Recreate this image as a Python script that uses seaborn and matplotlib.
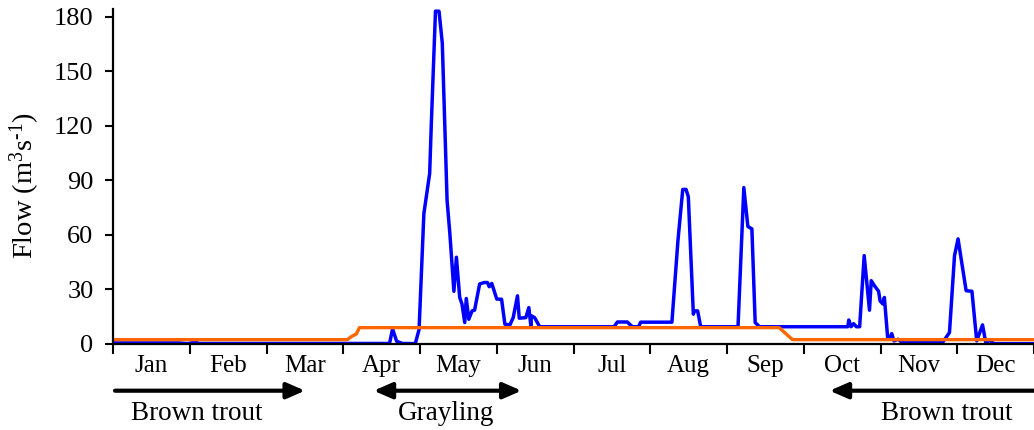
import matplotlib
matplotlib.use("Agg")
import matplotlib.pyplot as plt
import numpy as np
import pandas as pd
import seaborn as sns

# Daily river flow (m3/s) by day of year
flow_day = [0, 26.3, 29.5, 32.6, 34.2, 109.6, 110.8, 112.4, 114.7, 119.8,
            121.3, 123.2, 125.5, 126.1, 127.8, 129.2, 130.5, 132.4, 133.5, 135.1,
            136.1, 137.4, 138.3, 139.4, 140.0, 141.0, 142.3, 143.3, 145.3, 147.1,
            148.4, 149.1, 150.1, 152.1, 154.0, 155.3, 157.3, 158.6, 160.3, 161.0,
            163.6, 164.8, 165.6, 165.8, 167.1, 169.1, 198.6, 199.9, 203.8, 205.8,
            208.3, 209.1, 221.5, 223.9, 225.8, 227.1, 228.0, 230.0, 230.4, 231.7,
            232.9, 247.7, 250.0, 251.6, 253.2, 254.5, 256.2, 291.2, 291.6, 292.5,
            293.5, 294.6, 295.9, 297.7, 299.8, 300.5, 301.8, 303.4, 304.0, 305.1,
            305.7, 307.0, 308.0, 308.6, 309.5, 311.2, 312.5, 328.9, 331.5, 333.5,
            334.9, 338.1, 340.4, 342.3, 344.6, 345.9, 347.5, 349.2, 365]
flow_val = [0.6, 0.6, 0.2, 1.0, 0.3, 0.3, 8.3, 1.5, 0.3, 0.2,
            8, 71.7, 93.8, 119, 183, 183, 165.5, 79, 60.7, 29,
            47.7, 25.6, 22, 11.8, 25, 13.6, 18.2, 18.6, 33, 33.8,
            33.8, 31.5, 33.3, 24.7, 24.6, 10.9, 10.5, 14.5, 26.5, 14.2,
            14.5, 20, 10, 15.5, 14.5, 9.5, 9.5, 12.1, 12.1, 9.5,
            9.5, 12, 12, 57, 85, 85, 81, 16.4, 18.2, 18.2,
            9.5, 9.5, 86, 64.6, 63.3, 11.8, 9.5, 9.5, 13.2, 9.5,
            11.2, 9.5, 9.5, 48.6, 18.6, 34.8, 32, 29, 23.7, 22,
            25.6, 3.5, 3.5, 5.7, 1.7, 2.6, 1.1, 1.1, 6.3, 48.6,
            57.8, 29.3, 29, 1.7, 10.5, 0.7, 2, 0.2, 0.2]

# Minimum (environmental) flow requirement
minflow_day = [0, 92.9, 94.4, 96.4, 97.7, 98.5, 264.0, 269.3, 365]
minflow_val = [2.4, 2.4, 4.0, 5.5, 9.0, 9.0, 9.0, 2.4, 2.4]

months = ["Jan", "Feb", "Mar", "Apr", "May", "Jun",
          "Jul", "Aug", "Sep", "Oct", "Nov", "Dec"]
y_ticks = [0, 30, 60, 90, 120, 150, 180]

# Spawning periods (start day, end day, label)
spawn_species = ["Brown trout", "Grayling", "Brown trout"]
spawn_start = [0.8, 103.3, 284.0]
spawn_end = [76.1, 161.9, 380.0]

sns.set_theme(style="white")
plt.rcParams["font.family"] = ["Liberation Serif", "DejaVu Serif"]
plt.rcParams["mathtext.fontset"] = "custom"
plt.rcParams["mathtext.rm"] = "Liberation Serif"
plt.rcParams["mathtext.it"] = "Liberation Serif:italic"

flow_df = pd.DataFrame({"day": flow_day, "flow": flow_val})
min_df = pd.DataFrame({"day": minflow_day, "flow": minflow_val})

fig = plt.figure(figsize=(10.34, 4.30), dpi=100)
ax = fig.add_axes([113 / 1034, 86 / 430, 921 / 1034, (344 - 9) / 430])

sns.lineplot(data=flow_df, x="day", y="flow", ax=ax, color="#0000FF",
             linewidth=2.5, estimator=None, sort=False)
sns.lineplot(data=min_df, x="day", y="flow", ax=ax, color="#FF6600",
             linewidth=2.4, estimator=None, sort=False)

month_len = 365 / 12
ax.set_xlim(0, 362)
ax.set_ylim(0, 184.2)

ax.set_xticks([i * month_len for i in range(13)])
ax.set_xticklabels([])
ax.set_xticks([(i + 0.5) * month_len for i in range(12)], minor=True)
ax.set_xticklabels(months, minor=True, fontsize=18)
ax.tick_params(axis="x", which="major", direction="out", length=7, width=1.5,
               color="black", bottom=True)
ax.tick_params(axis="x", which="minor", length=0, pad=8, labelcolor="black")

ax.set_yticks(y_ticks)
ax.set_yticklabels([str(v) for v in y_ticks], fontsize=19)
ax.tick_params(axis="y", direction="out", length=6, width=1.5, pad=8,
               color="black", left=True, labelcolor="black")

for side in ["top", "right"]:
    ax.spines[side].set_visible(False)
for side in ["left", "bottom"]:
    ax.spines[side].set_color("black")
    ax.spines[side].set_linewidth(1.6)

ax.set_xlabel("")
ax.set_ylabel("Flow (m$^{3}$s$^{\u20101}$)", fontsize=20.5, color="black")
ax.yaxis.set_label_coords(-0.077, 0.4716)
ax.grid(False)

# Spawning period arrows and labels below the month axis
arrow_y = (430 - 390.7) / 430
text_y = (430 - 413.5) / 430
styles = ["-|>", "<|-|>", "<|-"]
for start, end, style in zip(spawn_start, spawn_end, styles):
    ax.annotate("", xy=(end, arrow_y), xytext=(start, arrow_y),
                xycoords=("data", "figure fraction"),
                textcoords=("data", "figure fraction"),
                annotation_clip=False,
                arrowprops=dict(arrowstyle=f"{style},head_length=0.55,head_width=0.24",
                                mutation_scale=20, lw=3, color="black",
                                shrinkA=0, shrinkB=0))

label_x = [33.1, 132.0, 330.5]
for lx, name in zip(label_x, spawn_species):
    ax.annotate(name, xy=(lx, text_y), xycoords=("data", "figure fraction"),
                ha="center", va="center", fontsize=19.5, color="black",
                annotation_clip=False)

fig.savefig("out.png", dpi=100)
